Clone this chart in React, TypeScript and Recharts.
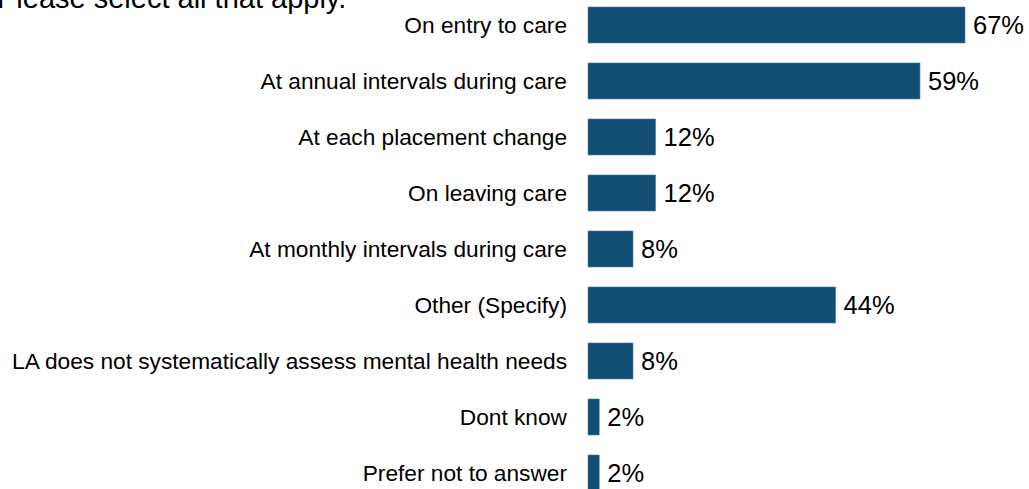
import { BarChart, Bar, XAxis, YAxis, LabelList } from 'recharts';

const categories = [
  'On entry to care',
  'At annual intervals during care',
  'At each placement change',
  'On leaving care',
  'At monthly intervals during care',
  'Other (Specify)',
  'LA does not systematically assess mental health needs',
  'Dont know',
  'Prefer not to answer',
];
const shares = [67, 59, 12, 12, 8, 44, 8, 2, 2];
const titleLine = 'Please select all that apply.';

const data = categories.map((name, i) => ({ name, value: shares[i] }));

const FONT = '"Liberation Sans", Arial, Helvetica, sans-serif';

export default function App() {
  return (
    <div
      style={{
        position: 'absolute',
        left: 0,
        top: 0,
        width: 1029,
        height: 489,
        overflow: 'hidden',
        background: '#fff',
        fontFamily: FONT,
      }}
    >
      <svg width={1029} height={40} style={{ position: 'absolute', left: 0, top: 0 }}>
        <text x={-3} y={8} fontSize={29} fill="#000" fontFamily={FONT}>
          {titleLine}
        </text>
      </svg>
      <div style={{ position: 'absolute', left: 0, top: -3 }}>
        <BarChart
          width={1029}
          height={504}
          data={data}
          layout="vertical"
          margin={{ top: 0, right: 19, bottom: 0, left: 0 }}
          barSize={36}
        >
          <XAxis type="number" domain={[0, 75]} hide />
          <YAxis
            type="category"
            dataKey="name"
            width={588}
            axisLine={false}
            tickLine={false}
            tickSize={0}
            tickMargin={21}
            interval={0}
            tick={{ fontSize: 22.7, fill: '#000', fontFamily: FONT }}
          />
          <Bar dataKey="value" fill="#124E74" stroke="#4f7c9c" strokeWidth={0.6} isAnimationActive={false}>
            <LabelList
              dataKey="value"
              position="right"
              offset={8}
              formatter={(v: number) => `${v}%`}
              style={{ fontSize: 25.5, fill: '#000', fontFamily: FONT }}
            />
          </Bar>
        </BarChart>
      </div>
    </div>
  );
}
